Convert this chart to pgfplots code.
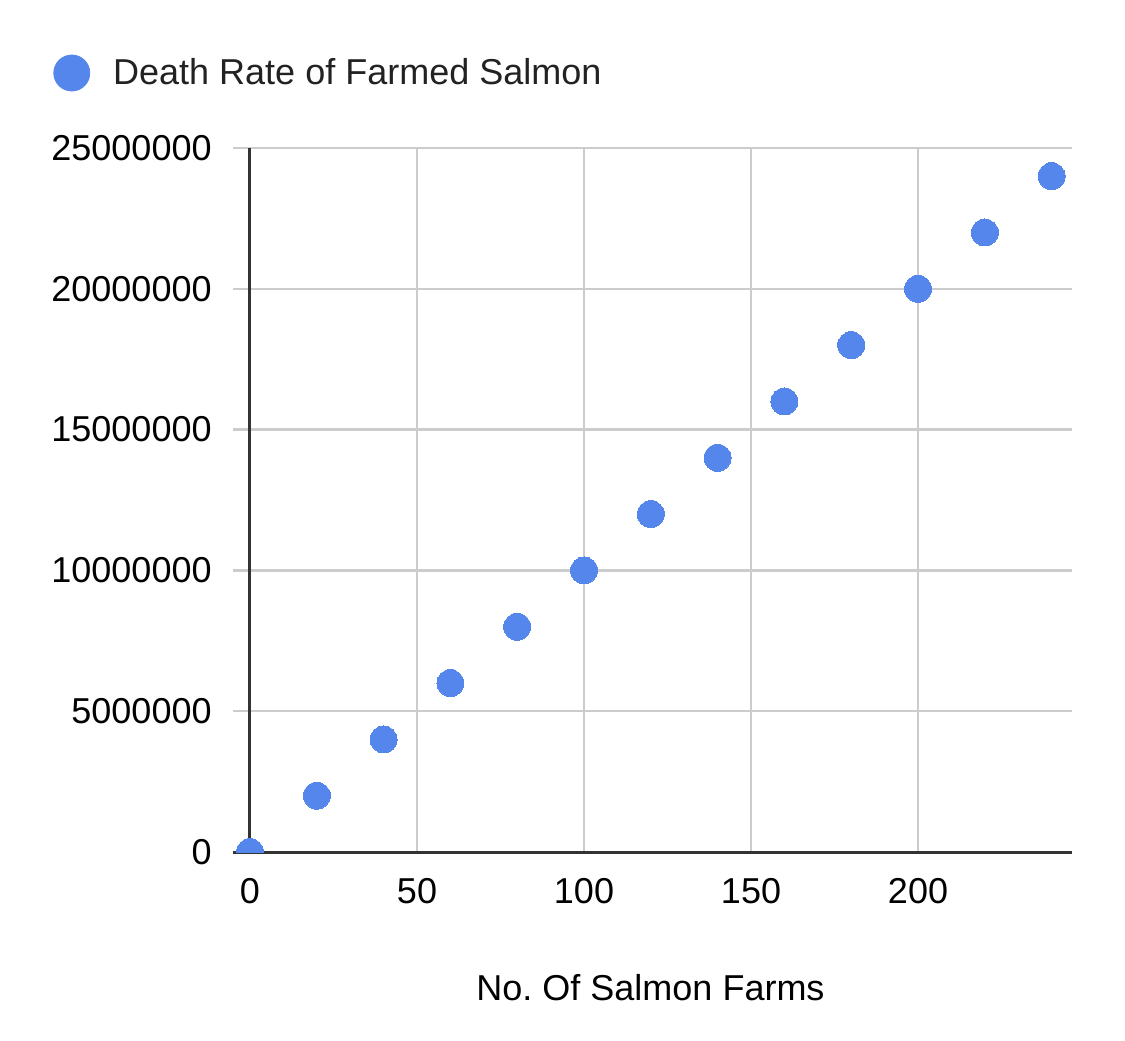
\documentclass[border=0pt]{standalone}
\usepackage{fontspec}
\setmainfont{Liberation Sans}
\usepackage{pgfplots}
\pgfplotsset{compat=1.18}
\definecolor{dotblue}{RGB}{85,134,236}
\definecolor{gridgray}{RGB}{204,204,204}
\definecolor{axisdark}{RGB}{51,51,51}
\definecolor{legtext}{RGB}{34,34,34}
\begin{document}
\begin{tikzpicture}
\useasboundingbox (-116.5pt,-94pt) rectangle (446pt,426pt);
\begin{axis}[
  at={(0,0)}, anchor=south west,
  scale only axis, width=419.5pt, height=352pt,
  xmin=-5.09, xmax=246.1, ymin=0, ymax=25000000,
  clip marker paths=true,
  axis x line*=bottom, axis y line*=left,
  x axis line style={draw=axisdark, line width=1.5pt, -},
  y axis line style={draw=none, -},
  xtick={0,50,100,150,200},
  ytick={0,5000000,10000000,15000000,20000000,25000000},
  major tick length=0pt, tick style={draw=none},
  xmajorgrids, ymajorgrids,
  major grid style={draw=gridgray, line width=1.2pt},
  extra x ticks={0}, extra x tick labels={},
  extra x tick style={major grid style={draw=axisdark, line width=1.5pt}},
  scaled y ticks=false,
  /pgf/number format/assume math mode=true,
  yticklabel style={/pgf/number format/fixed, /pgf/number format/1000 sep={}, anchor=east, inner sep=0pt, xshift=-10.5pt},
  xticklabel style={anchor=base, inner sep=0pt, yshift=-25.5pt},
  tick label style={font=\fontsize{18pt}{21pt}\selectfont, text=black},
  xlabel={No.\ Of Salmon Farms},
  xlabel style={at={(axis description cs:0.4976,0)}, anchor=base, yshift=-74pt, inner sep=0pt, font=\fontsize{18pt}{21pt}\selectfont, text=black},
  legend style={at={(axis description cs:-0.21454,1.10653)}, anchor=west, draw=none, fill=none, inner sep=0pt, column sep=11.5pt, font=\fontsize{18pt}{21pt}\selectfont, text=legtext, nodes={inner sep=0pt}},
  legend cell align=left,
  legend image code/.code={\fill[dotblue] (0pt,0pt) circle (9pt);},
]
\addplot[only marks, color=dotblue, mark=*, mark size=6.75pt, mark options={draw=dotblue, fill=dotblue, line width=0pt}] coordinates {
(0,0) (20,2000000) (40,4000000) (60,6000000) (80,8000000) (100,10000000)
(120,12000000) (140,14000000) (160,16000000) (180,18000000) (200,20000000)
(220,22000000) (240,24000000)};
\addlegendentry{Death Rate of Farmed Salmon}
\end{axis}
\end{tikzpicture}
\end{document}
